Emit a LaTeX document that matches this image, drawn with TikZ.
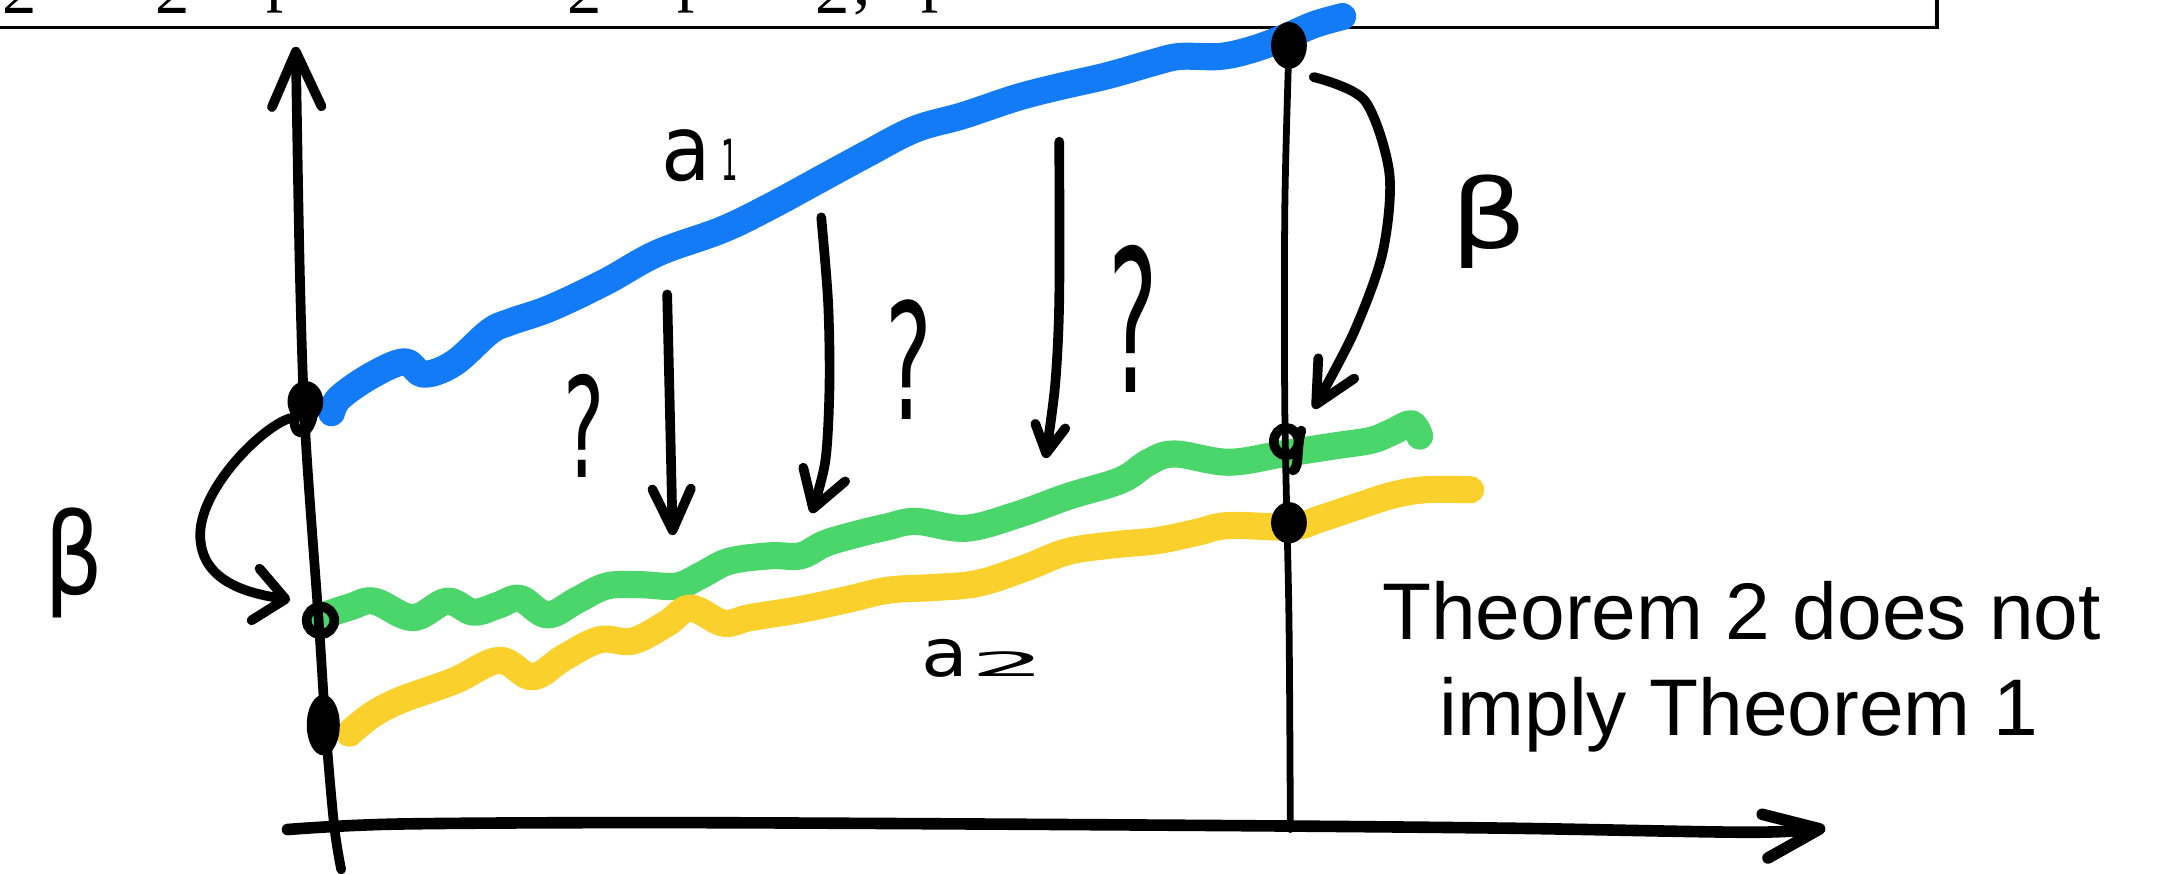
\documentclass[tikz,border=0pt]{standalone}
\usepackage{fontspec}
\usepackage{graphicx}
\setmainfont{Liberation Sans}
\newfontfamily\serifF{Liberation Serif}
\newfontfamily\handF{DejaVu Sans}
\usetikzlibrary{arrows.meta}
\definecolor{blueC}{RGB}{18,123,245}
\definecolor{greenC}{RGB}{74,214,106}
\definecolor{yellowC}{RGB}{250,208,44}
\begin{document}
\begin{tikzpicture}[x=0.01cm,y=-0.01cm,
  ink/.style={line width=2pt,line cap=round,line join=round},
  thinink/.style={line width=1.4pt,line cap=round,line join=round},
  curveB/.style={draw=blueC,line width=5.6pt,line cap=round,line join=round},
  curveG/.style={draw=greenC,line width=5.6pt,line cap=round,line join=round},
  curveY/.style={draw=yellowC,line width=5.6pt,line cap=round,line join=round},
  frag/.style={font=\serifF\fontsize{14.2}{16}\selectfont,inner sep=0pt,anchor=base west},
  hand/.style={inner sep=0pt,font=\handF},
  thm/.style={font=\fontsize{16.6}{20}\selectfont,inner sep=0pt,anchor=base},
]
\useasboundingbox (0,0) rectangle (1568,635);
\fill[white] (0,0) rectangle (1568,635);

% cut-off formula box at the top
\draw[line width=0.7pt] (-5,20) -- (1408,20) -- (1408,-5);
\node[frag] (f1) at (1,10) {2};
\node[frag] (f2) at (112,10) {2};
\node[frag] (f3) at (193,-1) {p};
\node[frag] (f4) at (412,10) {2};
\node[frag] (f5) at (492,-1) {p};
\node[frag] (f6) at (592,10) {2};
\node[frag] (f6c) at (620,3) {,};
\node[frag] (f7) at (669,-1) {p};

% named points on the axes
\coordinate (LB) at (222,292);
\coordinate (LG) at (233,451);
\coordinate (LY) at (235,527);
\coordinate (RB) at (937,33);
\coordinate (RG) at (935,321);
\coordinate (RY) at (937,380);

% coloured curves
\draw[curveB] plot[smooth,tension=0.6] coordinates {(241,300) (247,289) (270,273) (294,263) (308,272) (330,264) (356,241) (371,234) (400,224) (440,205) (478,184) (525,167) (560,150) (595,131) (630,112) (665,94) (700,84) (739,71) (770,63) (805,55) (840,45) (858,41) (887,41) (910,36) (932,28) (955,18) (976,12)};
\draw[curveG] plot[smooth,tension=0.6] coordinates {(234,448) (255,441) (272,437) (300,449) (325,437) (344,445) (362,440) (378,435) (398,447) (420,436) (441,426) (465,425) (492,426) (510,418) (530,408) (560,404) (582,404) (600,395) (624,388) (645,383) (666,379) (702,384) (740,374) (776,361) (815,349) (835,336) (854,330) (893,336) (932,330) (971,324) (997,320) (1012,314) (1026,308) (1032,317)};
\draw[curveY] plot[smooth,tension=0.6] coordinates {(254,533) (270,520) (291,509) (330,495) (363,480) (387,492) (410,478) (436,465) (460,466) (485,453) (502,442) (526,453) (545,449) (582,443) (615,436) (646,429) (680,427) (711,424) (745,413) (776,401) (810,396) (841,393) (870,387) (893,382) (939,383) (960,377) (987,368) (1012,360) (1036,356) (1069,356)};

% axes
\draw[ink,-{Straight Barb[length=0.4cm,width=0.36cm,round]}] plot[smooth] coordinates {(248,632) (243,601) (237,533) (232,456) (222,315) (218,200) (215,34)};
\draw[line width=2.4pt,line cap=round,line join=round,-{Straight Barb[length=0.4cm,width=0.32cm,round]}] plot[smooth] coordinates {(209,603) (290,599) (500,598) (872,600) (1094,602) (1272,605) (1327,602)};
\draw[thinink] plot[smooth] coordinates {(RB) (934,150) (934,300) (937,450) (938,603)};

% dots
\fill (LB) ellipse [x radius=0.13cm, y radius=0.15cm];
\draw[ink] (215,298) .. controls (210,320) and (226,320) .. (228,298);
\draw[line width=2pt] (LG) ellipse [x radius=0.1cm, y radius=0.1cm];
\fill (LY) ellipse [x radius=0.12cm, y radius=0.22cm];
\fill (RB) ellipse [x radius=0.13cm, y radius=0.17cm];
\draw[line width=2pt] (RG) ellipse [x radius=0.09cm, y radius=0.1cm];
\draw[ink] (946,313) .. controls (942,325) and (945,340) .. (940,342);
\fill (RY) ellipse [x radius=0.13cm, y radius=0.15cm];

% beta maps
\coordinate (bL1) at (211,304);
\coordinate (bL2) at (211,436);
\draw[ink,-{Straight Barb[length=0.22cm,width=0.38cm,round]}] (bL1) .. controls (190,310) and (140,360) .. (146,395) .. controls (150,425) and (185,432) .. (bL2);
\coordinate (bR1) at (955,56);
\coordinate (bR2) at (955,297);
\draw[ink,-{Straight Barb[length=0.3cm,width=0.3cm,round]}] plot[smooth] coordinates {(bR1) (992,73) (1010,126) (1005,184) (984,242) (bR2)};

% question arrows
\coordinate (d1s) at (485,214); \coordinate (d1e) at (489,389);
\coordinate (d2s) at (597,158); \coordinate (d2e) at (590,373);
\coordinate (d3s) at (770,103); \coordinate (d3e) at (760,333);
\draw[ink,-{Straight Barb[length=0.3cm,width=0.28cm,round]}] plot[smooth] coordinates {(d1s) (487,300) (d1e)};
\draw[ink,-{Straight Barb[length=0.26cm,width=0.32cm,round]}] plot[smooth] coordinates {(d2s) (602,220) (603,280) (600,335) (d2e)};
\draw[ink,-{Straight Barb[length=0.2cm,width=0.22cm,round]}] plot[smooth] coordinates {(d3s) (770,218) (767,280) (d3e)};

% hand-written labels
\node[hand] (q1) at (424.5,309.5) {\resizebox{0.30cm}{0.75cm}{?}};
\node[hand] (q2) at (661,261.5) {\resizebox{0.34cm}{0.87cm}{?}};
\node[hand] (q3) at (824,231.5) {\resizebox{0.36cm}{1.07cm}{?}};
\node[hand] (betaL) at (53.5,409) {\resizebox*{0.43cm}{0.80cm}{β}};
\node[hand] (betaR) at (1082.5,161) {\resizebox*{0.56cm}{0.68cm}{β}};
\node[hand,anchor=south west] (la1) at (480,133) {\resizebox{0.36cm}{0.37cm}{a}\hspace{0.08cm}\resizebox{0.12cm}{0.30cm}{1}};
\node[hand,anchor=south west] (la2) at (669,493) {\resizebox{0.34cm}{0.27cm}{a}\hspace{0.02cm}\resizebox{0.55cm}{0.18cm}{2}};

% statement
\node[thm] (t1) at (1266,465) {Theorem 2 does not};
\node[thm] (t2) at (1264,535) {imply Theorem 1};
\end{tikzpicture}
\end{document}
